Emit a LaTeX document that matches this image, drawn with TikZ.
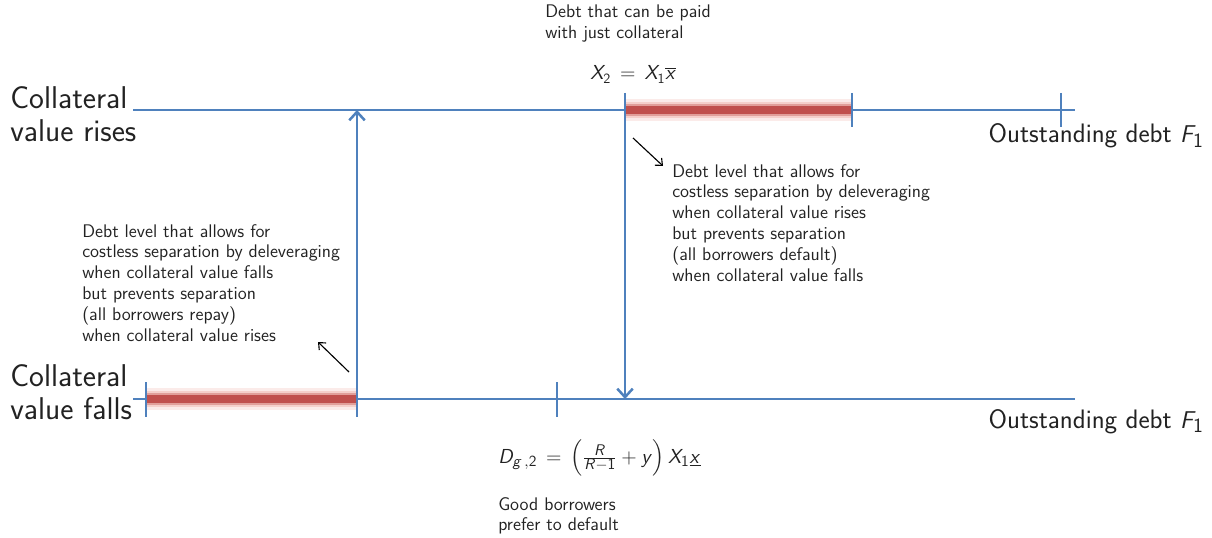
\documentclass[tikz,border=0pt]{standalone}
\usepackage{amsmath}
\usetikzlibrary{arrows.meta}
\DeclareMathAlphabet{\mathsfit}{OT1}{cmss}{m}{sl}
\newcommand{\sv}[1]{\mathsfit{#1}}
\newcommand{\sn}[1]{\mathsf{#1}}
\definecolor{lblue}{HTML}{4F81BD}
\definecolor{lred}{HTML}{C0504D}
\definecolor{lglow}{HTML}{E07060}
\definecolor{txt}{HTML}{222222}
\tikzset{
  axisline/.style={draw=lblue, line width=2.1pt},
  tickmark/.style={draw=lblue, line width=2.1pt},
  vlink/.style={draw=lblue, line width=2.1pt, -{Straight Barb[length=6pt,width=11pt,line width=1.8pt]}},
  pointer/.style={draw=black, line width=0.8pt, -{Straight Barb[length=4pt,width=7pt]}},
  glow1/.style={draw=lglow, line width=16pt, opacity=0.14},
  glow2/.style={draw=lglow, line width=12pt, opacity=0.22},
  glow3/.style={draw=lred, line width=8.5pt, opacity=0.38},
  redbar/.style={draw=lred, line width=5.6pt},
  smalltxt/.style={inner sep=0pt, align=left, text=txt, font=\sffamily\fontsize{13}{14.8}\selectfont},
  bigtxt/.style={inner sep=0pt, align=left, text=txt, font=\sffamily\fontsize{22.4}{23.5}\selectfont},
  midtxt/.style={inner sep=0pt, text=txt, font=\sffamily\fontsize{19}{22}\selectfont},
  mathtxt/.style={inner sep=0pt, text=txt, font=\sffamily\fontsize{14}{16}\selectfont},
  mathbig/.style={inner sep=0pt, text=txt, font=\sffamily\fontsize{15}{17}\selectfont},
}
\begin{document}
\begin{tikzpicture}[x=0.025cm,y=-0.025cm]
\useasboundingbox (0,0) rectangle (1212,538);
% coordinates on the lines
\coordinate (tL) at (133,110);
\coordinate (tR) at (1075,110);
\coordinate (bL) at (133,399);
\coordinate (bR) at (1075,399);
\coordinate (tA) at (357,110);
\coordinate (bA) at (357,399);
\coordinate (tB) at (625,110);
\coordinate (bB) at (625,399);
\coordinate (tC) at (852,110);
\coordinate (bS) at (146,399);
% horizontal axes
\draw[axisline] (tL) -- (tR);
\draw[axisline] (bL) -- (bR);
% red bars with glow
\foreach \s in {glow1,glow2,glow3,redbar}{
  \draw[\s] (tB) -- (tC);
  \draw[\s] (bS) -- (bA);
}
% ticks
\draw[tickmark] (625,93) -- (625,127);
\draw[tickmark] (852,93) -- (852,127);
\draw[tickmark] (1061,93) -- (1061,127);
\draw[tickmark] (146,382) -- (146,417);
\draw[tickmark] (357,382) -- (357,417);
\draw[tickmark] (557,382) -- (557,417);
% vertical arrows
\draw[vlink] (bA) -- (tA);
\draw[vlink] (tB) -- (bB);
% labels
\node[bigtxt, anchor=north west] (rise) at (10,86) {Collateral\\value rises};
\node[bigtxt, anchor=north west] (fall) at (10,364) {Collateral\\value falls};
\node[midtxt, anchor=base east] (odt) at (1204,143) {Outstanding debt $\sv{F}_{\sn{1}}$};
\node[midtxt, anchor=base east] (odb) at (1204,428) {Outstanding debt $\sv{F}_{\sn{1}}$};
\node[smalltxt, anchor=north west] (paid) at (545,5) {Debt that can be paid\\with just collateral};
\node[mathtxt, anchor=base west] (x2) at (590,80) {$\sv{X}_{\sn{2}}\,=\,\sv{X}_{\sn{1}}\overline{\sv{x}}$};
\node[smalltxt, anchor=north west] (rtxt) at (672,164) {Debt level that allows for\\costless separation by deleveraging\\when collateral value rises\\but prevents separation\\(all borrowers default)\\when collateral value falls};
\node[smalltxt, anchor=north west] (ltxt) at (82,224) {Debt level that allows for\\costless separation by deleveraging\\when collateral value falls\\but prevents separation\\(all borrowers repay)\\when collateral value rises};
\node[mathbig, anchor=base west] (dg) at (498,463) {$\sv{D}_{\sv{g}\,,\sn{2}}\,=\,\Bigl(\tfrac{\sv{R}}{\sv{R}-\sn{1}}+\sv{y}\Bigr)\,\sv{X}_{\sn{1}}\underline{\sv{x}}$};
\node[smalltxt, anchor=north west] (good) at (498,497) {Good borrowers\\prefer to default};
% pointer arrows
\coordinate (p1s) at (633,138);
\coordinate (p1e) at (663,166);
\coordinate (p2s) at (349,372);
\coordinate (p2e) at (318,342);
\draw[pointer] (p1s) -- (p1e);
\draw[pointer] (p2s) -- (p2e);
\end{tikzpicture}
\end{document}
